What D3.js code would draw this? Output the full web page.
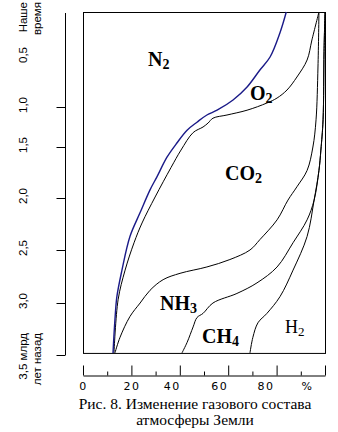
<!DOCTYPE html>
<html><head><meta charset="utf-8">
<script src="https://cdn.jsdelivr.net/npm/d3@7"></script>
<style>body{margin:0;background:#fff}svg{display:block}</style>
</head><body><svg id="c" width="338" height="432"></svg>
<script>
// ---- data (time in billions of years ago, cumulative percent) ----
const timeTickValues = [1, 1.5, 2, 2.5, 3, 3.5];
const timeLabelValues = [0, 0.5, 1, 1.5, 2, 2.5, 3, 3.5];
const timeLabelText = [["Наше","время"],["0,5"],["1,0"],["1,5"],["2,0"],["2,5"],["3,0"],["3,5 млрд","лет назад"]];
const pctMajor = [0, 20, 40, 60, 80, 100];
const pctMinor = [10, 30, 50, 70, 90];
const pctLabels = ["0","20","40","60","80","%"];

const n2Top = [[0,84],[0.23,81.4],[0.5,77.3],[0.63,73.1],[0.8,67.8],[0.93,62],[1.04,55.4],[1.1,51.2],[1.19,47.1],[1.29,43],[1.45,38.8],[1.6,34.7],[1.79,30.6],[1.92,27.7],[2.14,23.6],[2.37,19.4],[2.69,16.1],[2.94,14],[3.16,13.2],[3.48,12.4]];
const o2Top = [[0,97.5],[0.31,94.6],[0.53,92.6],[0.7,88.4],[0.83,84.3],[0.91,80.2],[0.96,76],[1.04,67.8],[1.1,59.5],[1.14,53.7],[1.2,51.7],[1.25,49.6],[1.32,45.5],[1.53,40.5],[1.7,36.4],[1.99,29.8],[2.24,24.4],[2.43,21.1],[2.69,17.4],[2.97,14.5],[3.48,12.8]];
const co2Top = [[0,97.5],[0.6,97.1],[1.16,96.3],[1.5,95],[1.73,92.6],[1.89,88.4],[2.02,84.7],[2.21,80.2],[2.4,73.1],[2.5,69],[2.59,60.7],[2.66,51.2],[2.72,40.1],[2.78,33.1],[2.88,27.7],[3,23.6],[3.13,19.4],[3.33,15.3],[3.48,13.2]];
const nh3Top = [[0,100],[0.44,99.6],[1.16,99.2],[1.53,98.3],[1.73,97.5],[2.02,95.5],[2.21,92.6],[2.43,86.8],[2.66,80.2],[2.81,71.9],[2.91,63.6],[3,53.7],[3.1,49.6],[3.14,47.1],[3.23,45.5],[3.38,43],[3.48,40.9]];
const ch4Top = [[0,100],[0.44,99.6],[1.16,99.2],[1.53,98.3],[1.73,97.5],[2.02,95.5],[2.37,92.6],[2.69,86.8],[2.94,81.4],[3.1,76],[3.19,72.3],[3.33,70.2],[3.48,69]];

const gasNames = ["N","O","CO","NH","CH","H"];
const gasSubs = ["2","2","2","3","4","2"];
const gasPct = [26.9, 69, 58.7, 31.8, 49.2, 83.5];
const gasTime = [0.59, 0.93, 1.82, 3.07, 3.38, 3.29];
const timeMax = 3.48;

// ---- scales ----
const svg = d3.select("#c");
const x = d3.scaleLinear().domain([0, 100]).range([83, 325]);
const y = d3.scaleLinear().domain([0,0.5,1,1.5,2,2.5,3,3.5]).range([12,57,107,147,198,250,303,355]);

// box
svg.append("rect").attr("x", x(0)+0.5).attr("y", y(0)+0.5)
  .attr("width", x(100)-x(0)).attr("height", y(timeMax)-y(0))
  .attr("fill","none").attr("stroke","#000").attr("stroke-width",1);

// curves
const line = d3.line().x(d => x(d[1])).y(d => y(d[0])).curve(d3.curveCatmullRom.alpha(0.5));
[[ch4Top,"#000",1],[nh3Top,"#000",1],[co2Top,"#000",1],[o2Top,"#000",1],[n2Top,"#1a1a88",1.4]].forEach(([data,col,w]) => {
  svg.append("path").attr("d", line(data)).attr("fill","none").attr("stroke",col).attr("stroke-width",w);
});

// gas labels
gasNames.forEach((n,i) => {
  const last = i === 5;
  const t = svg.append("text").attr("x", x(gasPct[i])).attr("y", y(gasTime[i]))
    .attr("font-family","'Liberation Serif', 'Times New Roman', serif")
    .attr("font-weight", last ? "normal" : "bold")
    .attr("font-size", last ? 18 : 20).attr("fill","#000");
  t.append("tspan").text(n);
  t.append("tspan").attr("font-size", last ? 13 : 14).attr("dy", 3).text(gasSubs[i]);
});

// left axis
const yAxis = d3.axisLeft(y).tickValues(timeTickValues).tickSize(9).tickSizeOuter(0).tickFormat("");
const ga = svg.append("g").attr("transform","translate(65.5,0)").call(yAxis);
ga.select(".domain").attr("d", `M0,${y(0)+1}V${y(3.5)}`);
ga.selectAll("line").attr("stroke","#000");

timeLabelValues.forEach((t,i) => {
  const lines = timeLabelText[i];
  lines.forEach((s,j) => {
    let yy, anchor;
    if (i === 0) { yy = y(t) - 10; anchor = "end"; }
    else if (i === timeLabelValues.length-1) { yy = y(t) - 22; anchor = "end"; }
    else { yy = y(t) - 2; anchor = "middle"; }
    svg.append("text")
      .attr("transform", `translate(${27 + j*14},${yy}) rotate(-90)`)
      .attr("text-anchor", anchor)
      .attr("font-family","'Liberation Sans', Arial, sans-serif")
      .attr("font-size", 11.5).attr("fill","#000").text(s);
  });
});

// bottom axis
const xMajor = d3.axisBottom(x).tickValues(pctMajor).tickSize(-10).tickSizeOuter(0).tickPadding(7)
  .tickFormat((d,i) => pctLabels[i]);
const gx = svg.append("g").attr("transform","translate(0,375.5)").call(xMajor);
const shift = [0, 0, -8, -9, -11, -18];
gx.selectAll(".tick text")
  .attr("dx", (d,i) => shift[i])
  .attr("font-family","'DejaVu Sans', sans-serif").attr("font-size", 11)
  .attr("letter-spacing", 1.5).attr("fill","#000");
gx.selectAll("line, path").attr("stroke","#000");
const xMinor = d3.axisBottom(x).tickValues(pctMinor).tickSize(-4).tickFormat("");
const gm = svg.append("g").attr("transform","translate(0,375.5)").call(xMinor);
gm.select(".domain").remove();
gm.selectAll("line").attr("stroke","#000");

// caption
[["Рис. 8. Изменение газового состава", 409], ["атмосферы Земли", 425]].forEach(([s, yy]) => {
  svg.append("text").attr("x", 195).attr("y", yy).attr("text-anchor","middle")
    .attr("font-family","'Liberation Serif', 'Times New Roman', serif")
    .attr("font-size", 15.5).attr("fill","#000").text(s);
});
</script></body></html>
